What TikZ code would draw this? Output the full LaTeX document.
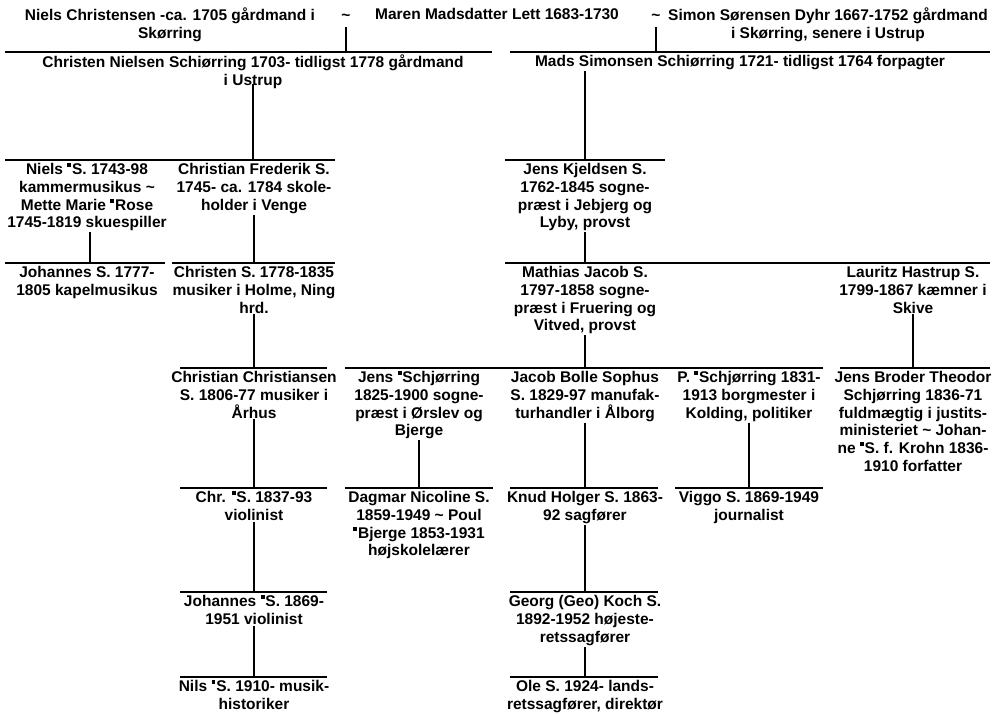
\documentclass[tikz,border=0pt]{standalone}
\usepackage{fontspec}
\setmainfont{Liberation Sans}
\usetikzlibrary{positioning}
\tikzset{
  person/.style = {anchor=north, align=center, inner sep=1pt,
                   font=\bfseries\fontsize{15.5}{17.8}\selectfont},
  rulebar/.style = {line width=1.8pt},
  link/.style = {line width=1.2pt},
}
\newcommand{\artmark}{\raisebox{0.47em}{\rule{0.25em}{0.25em}}\hspace{0.06em}}

\begin{document}
\begin{tikzpicture}[x=1pt, y=-1pt]
    \useasboundingbox (0,0) rectangle (994,714);

    % Row 0: the parents
    \node[person] (niels) at (170,7) {Niels Christensen -ca. 1705 gårdmand i\\Skørring};
    \node[person] (tildeA) at (346,7) {\strut\textasciitilde};
    \node[person] (maren) at (497,7) {Maren Madsdatter Lett 1683-1730};
    \node[person] (tildeB) at (656,7) {\strut\textasciitilde};
    \node[person] (simon) at (828,7) {Simon Sørensen Dyhr 1667-1752 gårdmand\\i Skørring, senere i Ustrup};

    % Row 1
    \coordinate (r1aL) at (5,52);   \coordinate (r1aR) at (492,52);
    \coordinate (r1bL) at (510,52); \coordinate (r1bR) at (990,52);
    \node[person] (christen) at (253,54) {Christen Nielsen Schiørring 1703- tidligst 1778 gårdmand\\i Ustrup};
    \node[person] (mads) at (740,54) {Mads Simonsen Schiørring 1721- tidligst 1764 forpagter};

    % Row 2
    \coordinate (r2aL) at (5,160);   \coordinate (r2aR) at (335,160);
    \coordinate (r2bL) at (505,160); \coordinate (r2bR) at (665,160);
    \node[person] (nielsS) at (87,162) {Niels \artmark S. 1743-98\\kammermusikus \textasciitilde\\Mette Marie \artmark Rose\\1745-1819 skuespiller};
    \node[person] (frederik) at (254,162) {Christian Frederik S.\\1745- ca. 1784 skole-\\holder i Venge};
    \node[person] (kjeldsen) at (585,162) {Jens Kjeldsen S.\\1762-1845 sogne-\\præst i Jebjerg og\\Lyby, provst};

    % Row 3
    \coordinate (r3aL) at (5,263);   \coordinate (r3aR) at (165,263);
    \coordinate (r3bL) at (172,263); \coordinate (r3bR) at (335,263);
    \coordinate (r3cL) at (505,263); \coordinate (r3cR) at (990,263);
    \node[person] (johannesK) at (87,265) {Johannes S. 1777-\\1805 kapelmusikus};
    \node[person] (christenS) at (254,265) {Christen S. 1778-1835\\musiker i Holme, Ning\\hrd.};
    \node[person] (mathias) at (585,265) {Mathias Jacob S.\\1797-1858 sogne-\\præst i Fruering og\\Vitved, provst};
    \node[person] (lauritz) at (913,265) {Lauritz Hastrup S.\\1799-1867 kæmner i\\Skive};

    % Row 4
    \coordinate (r4aL) at (180,368); \coordinate (r4aR) at (327,368);
    \coordinate (r4bL) at (345,368); \coordinate (r4bR) at (823,368);
    \coordinate (r4cL) at (840,368); \coordinate (r4cR) at (990,368);
    \node[person] (christianC) at (254,370) {Christian Christiansen\\S. 1806-77 musiker i\\Århus};
    \node[person] (jensS) at (419,370) {Jens \artmark Schjørring\\1825-1900 sogne-\\præst i Ørslev og\\Bjerge};
    \node[person] (jacob) at (585,370) {Jacob Bolle Sophus\\S. 1829-97 manufak-\\turhandler i Ålborg};
    \node[person] (peter) at (749,370) {P. \artmark Schjørring 1831-\\1913 borgmester i\\Kolding, politiker};
    \node[person] (broder) at (913,370) {Jens Broder Theodor\\Schjørring 1836-71\\fuldmægtig i justits-\\ministeriet \textasciitilde{} Johan-\\ne \artmark S. f. Krohn 1836-\\1910 forfatter};

    % Row 5
    \coordinate (r5aL) at (180,488); \coordinate (r5aR) at (327,488);
    \coordinate (r5bL) at (345,488); \coordinate (r5bR) at (493,488);
    \coordinate (r5cL) at (510,488); \coordinate (r5cR) at (658,488);
    \coordinate (r5dL) at (675,488); \coordinate (r5dR) at (823,488);
    \node[person] (chr) at (254,490) {Chr. \artmark S. 1837-93\\violinist};
    \node[person] (dagmar) at (419,490) {Dagmar Nicoline S.\\1859-1949 \textasciitilde{} Poul\\\artmark Bjerge 1853-1931\\højskolelærer};
    \node[person] (knud) at (585,490) {Knud Holger S. 1863-\\92 sagfører};
    \node[person] (viggo) at (749,490) {Viggo S. 1869-1949\\journalist};

    % Row 6
    \coordinate (r6aL) at (180,592); \coordinate (r6aR) at (327,592);
    \coordinate (r6bL) at (510,592); \coordinate (r6bR) at (658,592);
    \node[person] (johannesV) at (254,594) {Johannes \artmark S. 1869-\\1951 violinist};
    \node[person] (georg) at (585,594) {Georg (Geo) Koch S.\\1892-1952 højeste-\\retssagfører};

    % Row 7
    \coordinate (r7aL) at (180,677); \coordinate (r7aR) at (327,677);
    \coordinate (r7bL) at (510,677); \coordinate (r7bR) at (658,677);
    \node[person] (nils) at (254,679) {Nils \artmark S. 1910- musik-\\historiker};
    \node[person] (ole) at (585,679) {Ole S. 1924- lands-\\retssagfører, direktør};

    % Rules
    \draw[rulebar] (r1aL) -- (r1aR);  \draw[rulebar] (r1bL) -- (r1bR);
    \draw[rulebar] (r2aL) -- (r2aR);  \draw[rulebar] (r2bL) -- (r2bR);
    \draw[rulebar] (r3aL) -- (r3aR);  \draw[rulebar] (r3bL) -- (r3bR);
    \draw[rulebar] (r3cL) -- (r3cR);
    \draw[rulebar] (r4aL) -- (r4aR);  \draw[rulebar] (r4bL) -- (r4bR);
    \draw[rulebar] (r4cL) -- (r4cR);
    \draw[rulebar] (r5aL) -- (r5aR);  \draw[rulebar] (r5bL) -- (r5bR);
    \draw[rulebar] (r5cL) -- (r5cR);  \draw[rulebar] (r5dL) -- (r5dR);
    \draw[rulebar] (r6aL) -- (r6aR);  \draw[rulebar] (r6bL) -- (r6bR);
    \draw[rulebar] (r7aL) -- (r7aR);  \draw[rulebar] (r7bL) -- (r7bR);

    % Links down to the rules
    \draw[link] (tildeA.south) -- (tildeA.south |- r1aL);
    \draw[link] (tildeB.south) -- (tildeB.south |- r1bL);
    \draw[link] ([yshift=6pt]christen.south) -- (christen.south |- r2aL);
    \draw[link] (mads.south -| kjeldsen.north) -- (kjeldsen.north |- r2bL);
    \draw[link] (nielsS.south -| 90,0) -- (90,263);
    \draw[link] (frederik.south) -- (frederik.south |- r3bL);
    \draw[link] (kjeldsen.south) -- (kjeldsen.south |- r3cL);
    \draw[link] (christenS.south) -- (christenS.south |- r4aL);
    \draw[link] (mathias.south) -- (mathias.south |- r4bL);
    \draw[link] (lauritz.south) -- (lauritz.south |- r4cL);
    \draw[link] (christianC.south) -- (christianC.south |- r5aL);
    \draw[link] (jensS.south) -- (jensS.south |- r5bL);
    \draw[link] (jacob.south) -- (jacob.south |- r5cL);
    \draw[link] (peter.south) -- (peter.south |- r5dL);
    \draw[link] (chr.south) -- (chr.south |- r6aL);
    \draw[link] (knud.south) -- (knud.south |- r6bL);
    \draw[link] (johannesV.south) -- (johannesV.south |- r7aL);
    \draw[link] (georg.south) -- (georg.south |- r7bL);
\end{tikzpicture}
\end{document}
